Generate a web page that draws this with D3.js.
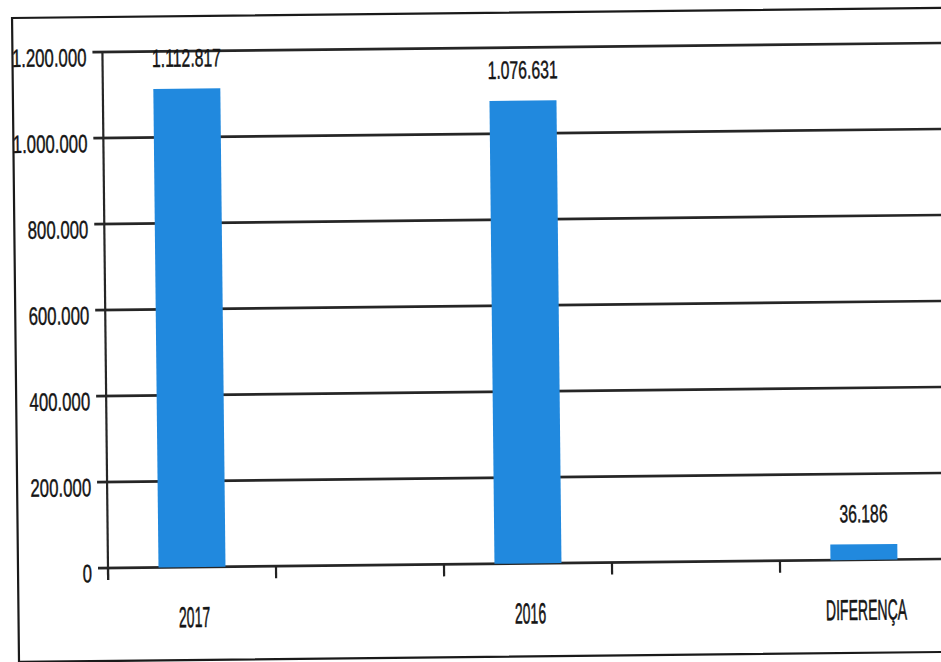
<!DOCTYPE html>
<html>
<head>
<meta charset="utf-8">
<script src="https://cdn.jsdelivr.net/npm/d3@7"></script>
<style>
  html, body { margin: 0; padding: 0; background: #fff; }
  svg { display: block; }
  text { font-family: "Liberation Sans", Arial, sans-serif; fill: #141414; stroke: #141414; stroke-width: 0.35px; }
</style>
</head>
<body>
<svg id="chart" width="941" height="662"></svg>
<script>
// Annual totals and their difference
const categories = ["2017", "2016", "DIFERENÇA"];
const values = [1112817, 1076631, 36186];
const yTicks = [0, 200000, 400000, 600000, 800000, 1000000, 1200000];

const W = 941, H = 662;
const axisX = 108, baseY = 568, topY = 52;

const fmt = d3.formatLocale({ decimal: ",", thousands: ".", grouping: [3], currency: ["", ""] }).format(",d");

const svg = d3.select("#chart");
// the whole sheet sits slightly tilted
const root = svg.append("g").attr("transform", `rotate(-0.62, ${axisX}, ${baseY})`);

// frame
root.append("rect")
  .attr("x", 18).attr("y", 17)
  .attr("width", 1000).attr("height", 644)
  .attr("fill", "none").attr("stroke", "#1a1a1a").attr("stroke-width", 2.2);

const y = d3.scaleLinear().domain([0, 1200000]).range([baseY, topY]);
// each category occupies two tick slots; the bar sits in the first one
const x = d3.scaleBand().domain(categories).range([axisX, axisX + 3 * 336]).paddingInner(0).paddingOuter(0);
const slot = x.bandwidth() / 2;
const barW = 67;

// gridlines with left tick stubs
root.append("g").selectAll("line").data(yTicks).join("line")
  .attr("x1", axisX - 10).attr("x2", axisX + 1100)
  .attr("y1", d => y(d)).attr("y2", d => y(d))
  .attr("stroke", "#262626").attr("stroke-width", 2.6);

// y axis line
root.append("line")
  .attr("x1", axisX).attr("x2", axisX)
  .attr("y1", y(1200000)).attr("y2", baseY + 12)
  .attr("stroke", "#262626").attr("stroke-width", 2.2);

// x tick marks at slot boundaries
const xTickPos = [];
categories.forEach(c => { xTickPos.push(x(c)); xTickPos.push(x(c) + slot); });
root.append("g").selectAll("line").data(xTickPos).join("line")
  .attr("x1", d => d).attr("x2", d => d)
  .attr("y1", baseY).attr("y2", baseY + 12)
  .attr("stroke", "#222").attr("stroke-width", 2.2);

// y tick labels
root.append("g").selectAll("text").data(yTicks).join("text")
  .attr("transform", d => `translate(92, ${y(d) + 14}) scale(0.84, 1.25)`)
  .attr("text-anchor", "end")
  .attr("font-size", 20)
  .text(d => fmt(d));

// bars
const cx = c => x(c) + slot / 2;
root.append("g").selectAll("rect").data(categories).join("rect")
  .attr("x", c => cx(c) - barW / 2)
  .attr("width", barW)
  .attr("y", (c, i) => y(values[i]))
  .attr("height", (c, i) => baseY - y(values[i]))
  .attr("fill", "#2189de");

// value labels
root.append("g").selectAll("text").data(categories).join("text")
  .attr("transform", (c, i) => `translate(${cx(c)}, ${y(values[i]) - 22}) scale(0.83, 1.32)`)
  .attr("text-anchor", "middle")
  .attr("font-size", 19)
  .text((c, i) => fmt(values[i]));

// category labels
root.append("g").selectAll("text").data(categories).join("text")
  .attr("transform", c => `translate(${cx(c) + 2}, ${baseY + 60}) scale(0.78, 1.6)`)
  .attr("text-anchor", "middle")
  .attr("font-size", 18)
  .text(c => c);
</script>
</body>
</html>
